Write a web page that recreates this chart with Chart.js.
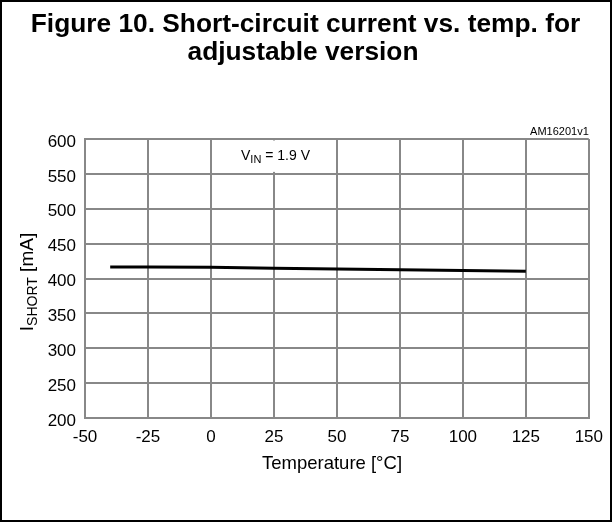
<!DOCTYPE html>
<html>
<head>
<meta charset="utf-8">
<script src="https://cdn.jsdelivr.net/npm/chart.js@4.4.0/dist/chart.umd.min.js"></script>
<style>
html,body{margin:0;padding:0;background:#fff;}
canvas{display:block;}
</style>
</head>
<body>
<canvas id="c" width="612" height="522"></canvas>
<script>
const temperatures = [-40, -25, 0, 25, 50, 75, 100, 125];
const shortCurrent = [416.5, 416.5, 416.0, 414.8, 413.5, 412.5, 411.5, 410.5];
const xTicks = [-50, -25, 0, 25, 50, 75, 100, 125, 150];
const yTicks = [200, 250, 300, 350, 400, 450, 500, 550, 600];
const titleLines = ["Figure 10. Short-circuit current vs. temp. for", "adjustable version"];
const xTitle = "Temperature [\u00B0C]";
const codeLabel = "AM16201v1";

const FONT = "'Liberation Sans', Arial, sans-serif";
const GRID = "#888888";

const textPlugin = {
  id: 'texts',
  beforeDatasetsDraw(chart) {
    const ctx = chart.ctx;
    const xs = chart.scales.x, ys = chart.scales.y;
    ctx.save();
    ctx.fillStyle = '#fff';
    const x0 = xs.getPixelForValue(0) + 1.5, x1 = xs.getPixelForValue(50) - 1.5;
    const y0 = chart.chartArea.top + 1.5, y1 = ys.getPixelForValue(550) - 2;
    ctx.fillRect(x0, y0, x1 - x0, y1 - y0);
    ctx.restore();
  },
  afterDraw(chart) {
    const ctx = chart.ctx;
    const ca = chart.chartArea;
    ctx.save();
    ctx.strokeStyle = '#000';
    ctx.lineWidth = 2;
    ctx.strokeRect(1, 1, 610, 520);
    ctx.fillStyle = '#000';
    ctx.textAlign = 'center';
    ctx.textBaseline = 'alphabetic';
    ctx.font = "bold 26.3px " + FONT;
    ctx.fillText(titleLines[0], 305.5, 31.5);
    ctx.fillText(titleLines[1], 303, 60);
    ctx.font = "11px " + FONT;
    ctx.textAlign = 'right';
    ctx.fillText(codeLabel, ca.right, 135);
    ctx.textAlign = 'left';
    let ax = 241, ay = 159.5;
    ctx.font = "14px " + FONT;
    ctx.fillText("V", ax, ay);
    ax += ctx.measureText("V").width;
    ctx.font = "11px " + FONT;
    ctx.fillText("IN", ax, ay + 3);
    ax += ctx.measureText("IN").width;
    ctx.font = "14px " + FONT;
    ctx.fillText(" = 1.9 V", ax, ay);
    ctx.textAlign = 'center';
    ctx.font = "18.5px " + FONT;
    ctx.fillText(xTitle, 332, 469);
    ctx.translate(33, 282);
    ctx.rotate(-Math.PI / 2);
    ctx.font = "19px " + FONT;
    const wI = ctx.measureText("I").width;
    ctx.font = "14px " + FONT;
    const wS = ctx.measureText("SHORT").width;
    ctx.font = "19px " + FONT;
    const wM = ctx.measureText(" [mA]").width;
    let tx = -(wI + wS + wM) / 2;
    ctx.textAlign = 'left';
    ctx.fillText("I", tx, 0);
    tx += wI;
    ctx.font = "14px " + FONT;
    ctx.fillText("SHORT", tx, 4);
    tx += wS;
    ctx.font = "19px " + FONT;
    ctx.fillText(" [mA]", tx, 0);
    ctx.restore();
  }
};

new Chart(document.getElementById('c'), {
  type: 'scatter',
  data: {
    datasets: [{
      data: temperatures.map((t, i) => ({x: t, y: shortCurrent[i]})),
      showLine: true,
      borderColor: '#000',
      borderWidth: 3,
      pointRadius: 0,
      tension: 0,
      fill: false
    }]
  },
  options: {
    responsive: false,
    devicePixelRatio: 1,
    animation: false,
    events: [],
    layout: { padding: { left: 0, top: 139, right: 23, bottom: 0 } },
    plugins: { legend: { display: false }, tooltip: { enabled: false }, title: { display: false } },
    scales: {
      x: {
        type: 'linear',
        min: -50, max: 150,
        afterBuildTicks: s => { s.ticks = xTicks.map(v => ({value: v})); },
        afterFit: s => { s.height = 104; },
        grid: { color: GRID, lineWidth: 2, drawTicks: false },
        border: { color: GRID, width: 2 },
        ticks: { color: '#000', font: { family: FONT, size: 17 }, padding: 9, maxRotation: 0 }
      },
      y: {
        type: 'linear',
        min: 200, max: 600,
        afterBuildTicks: s => { s.ticks = yTicks.map(v => ({value: v})); },
        afterFit: s => { s.width = 85; },
        grid: { color: GRID, lineWidth: 2, drawTicks: false },
        border: { color: GRID, width: 2 },
        ticks: { color: '#000', font: { family: FONT, size: 17 }, padding: 9, labelOffset: 3 }
      }
    }
  },
  plugins: [textPlugin]
});
</script>
</body>
</html>
